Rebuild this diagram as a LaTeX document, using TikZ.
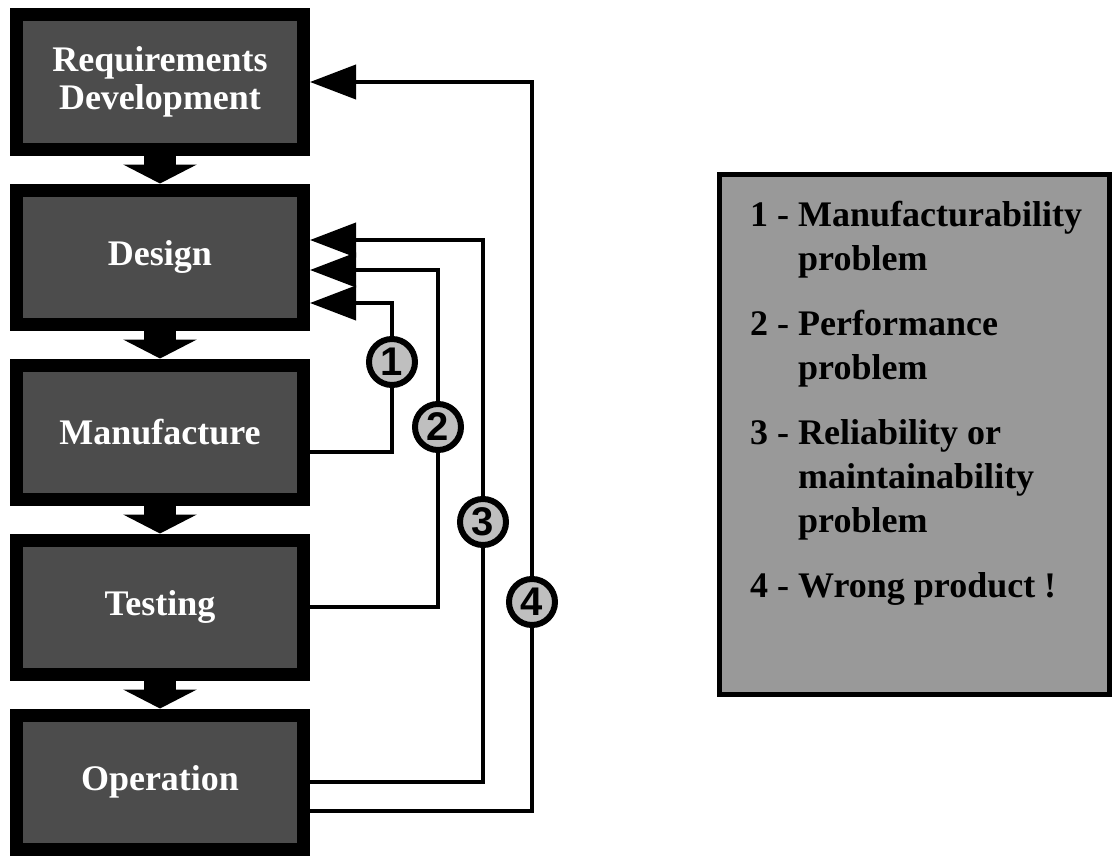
\documentclass[tikz,border=0pt]{standalone}
\usepackage{fontspec}
\setmainfont{Liberation Serif}
\newfontfamily\badgefont{Liberation Sans}
\usetikzlibrary{arrows.meta}

\begin{document}
\begin{tikzpicture}[x=1pt, y=-1pt,
    stage/.style={draw=black, line width=13pt, fill=black!70,
      minimum width=287pt, minimum height=134pt, align=center,
      text=white, font=\fontsize{36}{38}\selectfont\bfseries},
    flow/.style={line width=32pt, -{Triangle[length=19pt 0 0, width=73pt 0 0]}},
    back/.style={line width=4pt, -{Triangle[length=46pt 0 0, width=34pt 0 0]}},
    badge/.style={circle, draw=black, line width=6pt, fill=black!25,
      minimum size=46pt, inner sep=0pt,
      font=\badgefont\bfseries\fontsize{40}{40}\selectfont},
    legendbox/.style={draw=black, line width=5pt, fill=black!40,
      minimum width=390pt, minimum height=520pt}]
  \useasboundingbox (0,0) rectangle (1117,859);
  \newcommand{\gap}{175}

  % life-cycle stages, top to bottom
  \foreach \n/\t [count=\i from 0] in {req/{Requirements\\Development},
      dsg/Design, man/Manufacture, tst/Testing, ops/Operation} {
    \node[stage] (\n) at (160,82+\gap*\i) {\t};
  }

  \foreach \from/\to in {req/dsg, dsg/man, man/tst, tst/ops} {
    \draw[flow] (\from.south) -- (\to.north);
  }

  % numbered markers on the feedback loops
  \foreach \k/\x/\y in {1/392/362, 2/438/427, 3/483/522, 4/532/602} {
    \node[badge] (c-\k) at (\x,\y) {\k};
  }

  \draw[back] ([yshift=-20pt]man.east) -| (c-1) |- ([yshift=-46pt]dsg.east);
  \draw[back] (tst.east) -| (c-2) |- ([yshift=-13pt]dsg.east);
  \draw[back] (ops.east) -| (c-3) |- ([yshift=17pt]dsg.east);
  \draw[back] ([yshift=-29pt]ops.east) -| (c-4) |- (req.east);

  % key to the loops
  \node[legendbox, anchor=north west] (key) at (717,172) {};
  \node[anchor=north west, inner sep=0pt, align=left,
        font=\fontsize{36}{44}\selectfont\bfseries] (key-text) at (750,201) {
    1 - Manufacturability\\
    \phantom{1 - }problem\\[21pt]
    2 - Performance\\
    \phantom{2 - }problem\\[21pt]
    3 - Reliability or\\
    \phantom{3 - }maintainability\\
    \phantom{3 - }problem\\[21pt]
    4 - Wrong product !};
\end{tikzpicture}
\end{document}
